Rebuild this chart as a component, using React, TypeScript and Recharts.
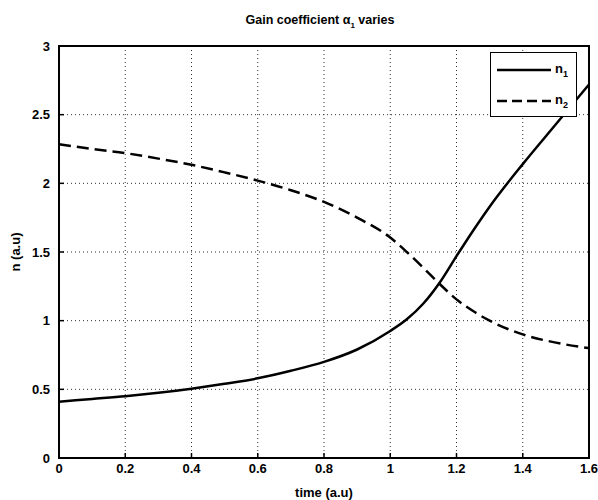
import { LineChart, Line, XAxis, YAxis, CartesianGrid, Legend, ReferenceArea } from "recharts"

const times = [0, 0.1, 0.2, 0.3, 0.4, 0.5, 0.6, 0.7, 0.8, 0.9, 1.0, 1.05, 1.1, 1.15, 1.2, 1.25, 1.3, 1.4, 1.5, 1.6]
const n1Values = [0.41, 0.43, 0.45, 0.475, 0.505, 0.54, 0.58, 0.635, 0.7, 0.79, 0.925, 1.01, 1.125, 1.28, 1.47, 1.655, 1.83, 2.14, 2.43, 2.72]
const n2Values = [2.285, 2.25, 2.22, 2.18, 2.135, 2.08, 2.02, 1.95, 1.865, 1.75, 1.605, 1.5, 1.385, 1.265, 1.155, 1.07, 1.0, 0.9, 0.84, 0.8]

const xTicks = [0, 0.2, 0.4, 0.6, 0.8, 1, 1.2, 1.4, 1.6]
const yTicks = [0, 0.5, 1, 1.5, 2, 2.5, 3]

const data = times.map((t, i) => ({ time: t, n1: n1Values[i], n2: n2Values[i] }))

const font = "'Liberation Sans', Arial, sans-serif"
const tickStyle = { fill: "#000", fontSize: 13, fontWeight: 700, fontFamily: font }

function LegendBox() {
    const row = (dash: string | undefined, sub: string) => (
        <div style={{ display: "flex", alignItems: "center", height: 31 }}>
            <svg width={56} height={10} style={{ marginLeft: 6 }}>
                <line x1={0} y1={5} x2={54} y2={5} stroke="#000" strokeWidth={2.5} strokeDasharray={dash} />
            </svg>
            <span style={{ fontSize: 13, fontWeight: 700, fontFamily: font, marginLeft: 2 }}>
                n<sub style={{ fontSize: 9 }}>{sub}</sub>
            </span>
        </div>
    )
    return (
        <div style={{ width: 87, height: 65, border: "1.5px solid #000", background: "#fff", boxSizing: "border-box", paddingTop: 1 }}>
            {row(undefined, "1")}
            {row("10 5", "2")}
        </div>
    )
}

function YLabel({ viewBox }: any) {
    const cx = 15
    const cy = viewBox.y + viewBox.height / 2
    return (
        <text x={cx} y={cy} transform={`rotate(-90, ${cx}, ${cy})`} textAnchor="middle" dominantBaseline="central"
            style={{ fontSize: 13, fontWeight: 700, fontFamily: font, fill: "#000" }}>
            n (a.u)
        </text>
    )
}

export default function App() {
    return (
        <div style={{ position: "absolute", left: 0, top: 0, width: 598, height: 500, background: "#fff" }}>
            <div style={{ position: "absolute", top: 13, left: 0, width: 640, textAlign: "center", fontSize: 12.5, fontWeight: 700, fontFamily: font }}>
                Gain coefficient α<sub style={{ fontSize: 8 }}>1</sub> varies
            </div>
            <LineChart width={598} height={500} data={data} margin={{ top: 46, right: 9, left: 0, bottom: 0 }}>
                <CartesianGrid stroke="#333" strokeDasharray="1 3" />
                <ReferenceArea x1={0} x2={1.6} y1={0} y2={3} fill="none" stroke="#000" strokeWidth={2} ifOverflow="visible" />
                <XAxis
                    dataKey="time"
                    type="number"
                    domain={[0, 1.6]}
                    ticks={xTicks}
                    height={42}
                    tickSize={-5}
                    tickMargin={11}
                    tick={tickStyle}
                    axisLine={{ stroke: "#000", strokeWidth: 2 }}
                    tickLine={{ stroke: "#000", strokeWidth: 1.5 }}
                    label={{ value: "time (a.u)", position: "insideBottom", offset: 3, style: { fontSize: 13, fontWeight: 700, fontFamily: font, fill: "#000" } }}
                />
                <YAxis
                    type="number"
                    domain={[0, 3]}
                    ticks={yTicks}
                    width={59}
                    tickSize={-5}
                    tickMargin={14}
                    tick={tickStyle}
                    axisLine={{ stroke: "#000", strokeWidth: 2 }}
                    tickLine={{ stroke: "#000", strokeWidth: 1.5 }}
                    label={<YLabel />}
                />
                <Legend
                    content={<LegendBox />}
                    layout="horizontal"
                    align="center"
                    verticalAlign="middle"
                    wrapperStyle={{ top: 52, left: 490, width: 87 }}
                />
                <Line type="monotone" dataKey="n1" stroke="#000" strokeWidth={2.5} dot={false} isAnimationActive={false} />
                <Line type="monotone" dataKey="n2" stroke="#000" strokeWidth={2.5} strokeDasharray="12 6" dot={false} isAnimationActive={false} />
            </LineChart>
        </div>
    )
}
